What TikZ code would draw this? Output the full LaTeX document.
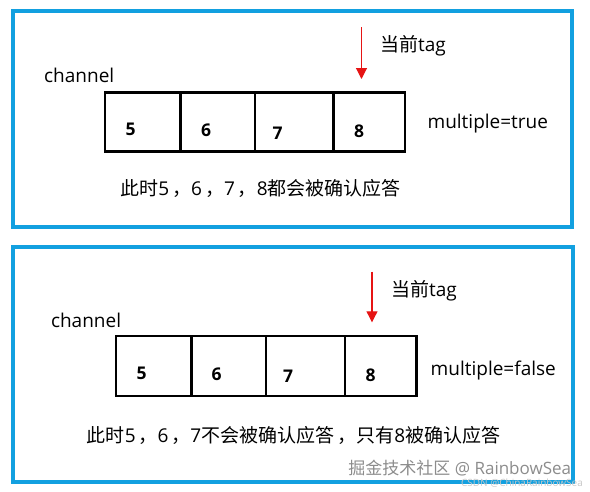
\documentclass[tikz,border=0pt]{standalone}
\usepackage{fontspec}
\setmainfont{Open Sans}
\newfontfamily\cjk{Noto Sans CJK SC}
\usetikzlibrary{arrows.meta}
\definecolor{bord}{RGB}{18,160,224}
\definecolor{tagred}{RGB}{230,20,20}
\definecolor{wmgray}{RGB}{140,140,140}
\definecolor{wmlight}{RGB}{200,200,200}
\newcommand{\fwc}{\kern3pt{\cjk ，}}
\tikzset{
  frame/.style={draw=bord, line width=3.2pt, inner sep=0pt, outer sep=0pt},
  cell/.style={draw=black, line width=2.6pt, inner sep=0pt, outer sep=0pt},
  num/.style={font=\fontsize{17.5}{20}\selectfont\bfseries, inner sep=0pt},
  lbl/.style={font=\fontsize{19}{22}\selectfont, inner sep=0pt},
  tagarrow/.style={draw=tagred, line width=1.1pt, -{Triangle[width=11pt,length=11pt]}},
}
\begin{document}
\begin{tikzpicture}[x=1pt,y=-1pt]
\useasboundingbox (0,0) rectangle (590,491);
% frames
\node[frame, minimum width=559pt, minimum height=216pt] (f1) at (292.5,119) {};
\node[frame, minimum width=560pt, minimum height=235pt] (f2) at (293,364.5) {};
% top cells
\node[cell, minimum width=75.7pt, minimum height=59pt] (c1) at (142.85,122.2) {};
\node[cell, minimum width=74.3pt, minimum height=59pt] (c2) at (217.85,122.2) {};
\node[cell, minimum width=78.3pt, minimum height=59pt] (c3) at (294.15,122.2) {};
\node[cell, minimum width=71.7pt, minimum height=59pt] (c4) at (369.15,122.2) {};
\node[num] (n1) at (130.7,129) {5};
\node[num] (n2) at (206,130) {6};
\node[num] (n3) at (277.7,133) {7};
\node[num] (n4) at (359,131.7) {8};
% bottom cells
\node[cell, minimum width=75.7pt, minimum height=60pt] (d1) at (153.85,366) {};
\node[cell, minimum width=74.3pt, minimum height=60pt] (d2) at (228.85,366) {};
\node[cell, minimum width=79pt, minimum height=60pt] (d3) at (305.5,366) {};
\node[cell, minimum width=71.7pt, minimum height=60pt] (d4) at (380.85,366) {};
\node[num] (m1) at (141.7,373) {5};
\node[num] (m2) at (216.7,374) {6};
\node[num] (m3) at (288,376.7) {7};
\node[num] (m4) at (370.7,375.7) {8};
% arrows
\coordinate (a1s) at (361.5,27);
\coordinate (a1e) at (361.5,79);
\coordinate (a2s) at (372,271.7);
\coordinate (a2e) at (372,322.3);
\draw[tagarrow] (a1s) -- (a1e);
\draw[tagarrow] (a2s) -- (a2e);
% labels
\node[lbl, anchor=base west] (ch1) at (44,82) {channel};
\node[lbl, anchor=base west] (ch2) at (50.8,327.3) {channel};
\node[lbl, anchor=base west] (tg1) at (380,51.7) {{\cjk 当前}tag};
\node[lbl, anchor=base west] (tg2) at (391,296.5) {{\cjk 当前}tag};
\node[lbl, anchor=base west] (mp1) at (427.4,128.5) {multiple=true};
\node[lbl, anchor=base west] (mp2) at (430.5,375) {multiple=false};
\node[lbl, anchor=base] (cap1) at (260.5,195) {{\cjk 此时}5\fwc 6\fwc 7\fwc 8{\cjk 都会被确认应答}};
\node[lbl, anchor=base] (cap2) at (293.5,442) {{\cjk 此时}5\fwc 6\fwc 7{\cjk 不会被确认应答}\fwc{\cjk 只有}8{\cjk 被确认应答}};
% watermarks
\node[inner sep=0pt, anchor=base, text=wmgray, font=\fontsize{17}{20}\selectfont] (wm) at (459.8,474) {{\cjk 掘金技术社区} @ RainbowSea};
\node[inner sep=0pt, anchor=base, text=wmlight, font=\fontsize{10}{12}\selectfont] (csdn) at (522,486) {CSDN @ChinaRainbowSea};
\end{tikzpicture}
\end{document}
